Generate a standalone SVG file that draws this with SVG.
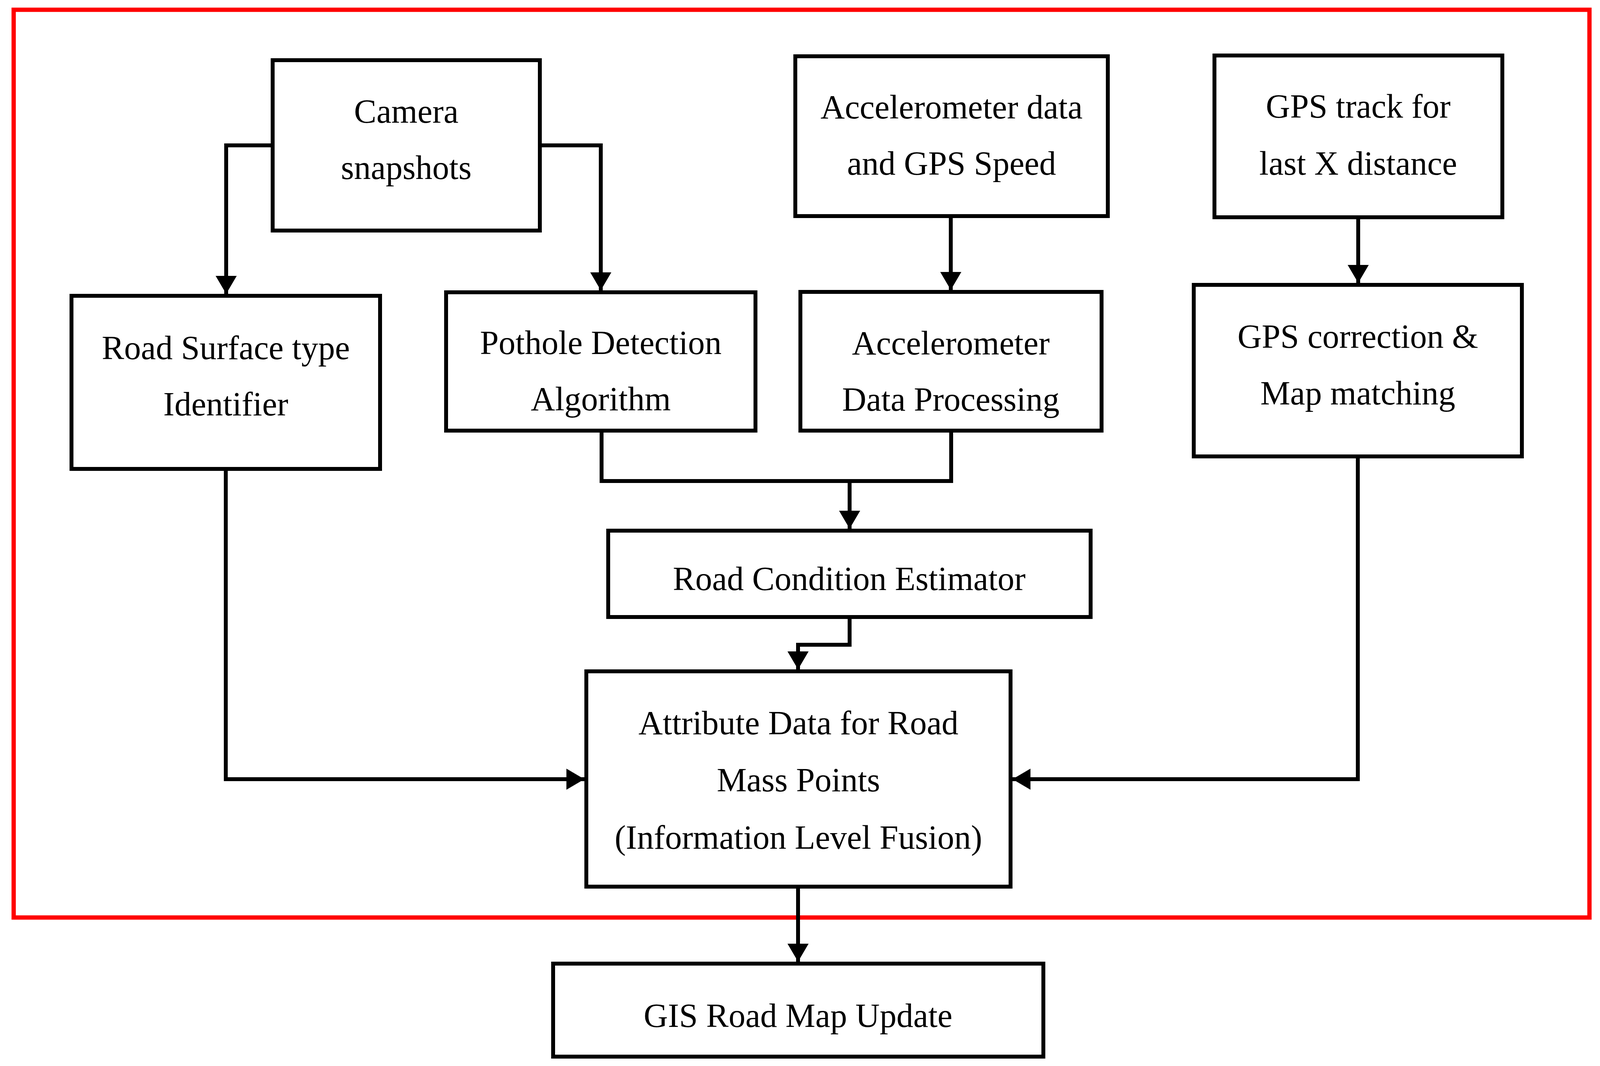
<svg xmlns="http://www.w3.org/2000/svg" width="4107" height="2728" viewBox="0 0 4107 2728">
<style>
.box{fill:#fff;stroke:#000;stroke-width:10}
.lbl{font-family:"Liberation Serif","Times New Roman",serif;font-size:86px;fill:#000;text-anchor:middle}
.con{fill:none;stroke:#000;stroke-width:10;stroke-linejoin:miter}
</style>
<defs>
<marker id="arr" viewBox="0 0 46 54" refX="46" refY="27" markerWidth="46" markerHeight="54" markerUnits="userSpaceOnUse" orient="auto">
<path d="M0,0 L46,27 L0,54 Z" fill="#000"/>
</marker>
</defs>
<rect width="4107" height="2728" fill="#fff"/>
<rect id="frame" x="35" y="25" width="4034" height="2323" fill="none" stroke="#ff0000" stroke-width="11"/>
<g id="connectors">
<path class="con" d="M698,372 H579 V752" marker-end="url(#arr)"/>
<path class="con" d="M1382,372 H1538 V743" marker-end="url(#arr)"/>
<path class="con" d="M2434,553 V742" marker-end="url(#arr)"/>
<path class="con" d="M3477,556 V724" marker-end="url(#arr)"/>
<path class="con" d="M1540,1102 V1231 H2435 V1102"/>
<path class="con" d="M2175,1231 V1353" marker-end="url(#arr)"/>
<path class="con" d="M2175,1579 V1650 H2043 V1713" marker-end="url(#arr)"/>
<path class="con" d="M578,1200 V1994 H1496" marker-end="url(#arr)"/>
<path class="con" d="M3476,1168 V1994 H2592" marker-end="url(#arr)"/>
<path class="con" d="M2043,2269 V2461" marker-end="url(#arr)"/>
</g>
<g id="camera">
<rect class="box" x="698" y="154" width="684" height="436"/>
<text class="lbl" x="1040" y="314">Camera</text>
<text class="lbl" x="1040" y="458">snapshots</text>
</g>
<g id="accel-data">
<rect class="box" x="2036" y="144" width="800" height="409"/>
<text class="lbl" x="2436" y="303">Accelerometer data</text>
<text class="lbl" x="2436" y="447">and GPS Speed</text>
</g>
<g id="gps-track">
<rect class="box" x="3109" y="142" width="737" height="414"/>
<text class="lbl" x="3477" y="301">GPS track for</text>
<text class="lbl" x="3477" y="447">last X distance</text>
</g>
<g id="road-surface">
<rect class="box" x="183" y="757" width="790" height="443"/>
<text class="lbl" x="578" y="919">Road Surface type</text>
<text class="lbl" x="578" y="1063">Identifier</text>
</g>
<g id="pothole">
<rect class="box" x="1142" y="748" width="792" height="354"/>
<text class="lbl" x="1538" y="906">Pothole Detection</text>
<text class="lbl" x="1538" y="1050">Algorithm</text>
</g>
<g id="accel-proc">
<rect class="box" x="2049" y="747" width="771" height="355"/>
<text class="lbl" x="2434" y="907">Accelerometer</text>
<text class="lbl" x="2434" y="1051">Data Processing</text>
</g>
<g id="gps-corr">
<rect class="box" x="3056" y="729" width="840" height="439"/>
<text class="lbl" x="3476" y="890">GPS correction &amp;</text>
<text class="lbl" x="3476" y="1035">Map matching</text>
</g>
<g id="road-condition">
<rect class="box" x="1557" y="1358" width="1235" height="221"/>
<text class="lbl" x="2174" y="1510">Road Condition Estimator</text>
</g>
<g id="attribute">
<rect class="box" x="1501" y="1718" width="1086" height="551"/>
<text class="lbl" x="2044" y="1879">Attribute Data for Road</text>
<text class="lbl" x="2044" y="2025">Mass Points</text>
<text class="lbl" x="2044" y="2172">(Information Level Fusion)</text>
</g>
<g id="gis">
<rect class="box" x="1416" y="2466" width="1255" height="238"/>
<text class="lbl" x="2043" y="2628">GIS Road Map Update</text>
</g>
</svg>
